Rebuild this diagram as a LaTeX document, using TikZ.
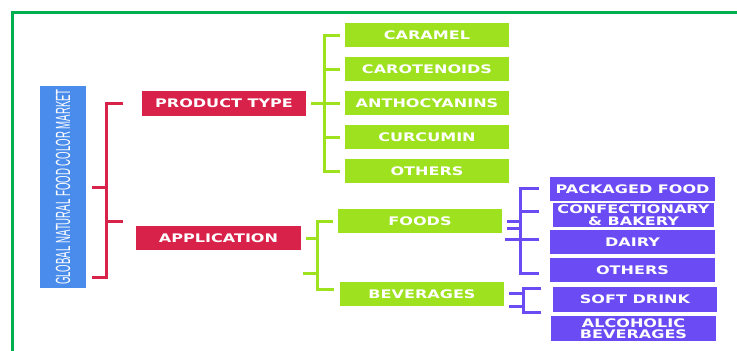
\documentclass[tikz,border=0pt]{standalone}
\usepackage{fontspec}
\newfontfamily\boxfont[FakeStretch=1.36]{DejaVu Sans}
\newfontfamily\marketfont[FakeStretch=0.47]{Liberation Sans}
\definecolor{framegreen}{HTML}{00B050}
\definecolor{marketblue}{HTML}{4A8CEB}
\definecolor{segred}{HTML}{D8224A}
\definecolor{limegreen}{HTML}{9DE11F}
\definecolor{leafviolet}{HTML}{6A4BF4}

\begin{document}
\begin{tikzpicture}[
            x=1pt, y=-1pt,
            market/.style={rectangle, fill=marketblue, text=white, minimum width=202pt, minimum height=46pt, inner sep=0pt, font=\marketfont\fontsize{20.5}{21}\selectfont},
            segment/.style={rectangle, fill=segred, text=white, minimum width=164pt, minimum height=25pt, inner sep=0pt, font=\boxfont\bfseries\fontsize{11.8}{12}\selectfont},
            kind/.style={rectangle, fill=limegreen, text=white, minimum width=164pt, minimum height=24pt, inner sep=0pt, font=\boxfont\bfseries\fontsize{11.8}{12}\selectfont},
            leaf/.style={rectangle, fill=leafviolet, text=white, minimum width=165pt, minimum height=24pt, inner sep=0pt, align=center, font=\boxfont\bfseries\fontsize{11.8}{11.5}\selectfont},
            redline/.style={draw=segred, line width=3pt},
            limeline/.style={draw=limegreen, line width=3pt},
            violetline/.style={draw=leafviolet, line width=3pt}
        ]
        \useasboundingbox (0,0) rectangle (737,351);

        % ==========================================
        % FRAME (top and left edge only)
        % ==========================================
        \draw[draw=framegreen, line width=3pt] (12,351) -- (12,12) -- (737,12);

        % ==========================================
        % MARKET AND SEGMENTS
        % ==========================================
        \node[market, rotate=90] (market) at (63,187) {GLOBAL NATURAL FOOD COLOR MARKET};

        \node[segment] (product) at (224,103.5) {PRODUCT TYPE};
        \node[segment, minimum width=165pt, minimum height=24pt] (application) at (218.5,238) {APPLICATION};

        % Red bracket (corners do not line up with the boxes)
        \coordinate (rtop) at (123,103);
        \coordinate (rbot) at (92,277);
        \draw[redline] (rtop) -- ++(-17,0) |- (rbot);
        \draw[redline] (rbot |- market) -- ++(14,0);
        \draw[redline] (rtop |- 0,221) -- ++(-17,0);

        % ==========================================
        % PRODUCT TYPE
        % ==========================================
        \node[kind] (caramel) at (427,35) {CARAMEL};
        \node[kind] (carotenoids) at (427,69) {CAROTENOIDS};
        \node[kind] (anthocyanins) at (427,103) {ANTHOCYANINS};
        \node[kind] (curcumin) at (427,137) {CURCUMIN};
        \node[kind] (ptothers) at (427,171) {OTHERS};

        \draw[limeline] ([xshift=-5]caramel.west) -- ++(-15,0) |- ([xshift=-5]ptothers.west);
        \foreach \n in {carotenoids, anthocyanins, curcumin}
            \draw[limeline] ([xshift=-5]\n.west) -- ++(-15,0);
        \draw[limeline] ([xshift=5]product.east) -- ++(14,0);

        % ==========================================
        % APPLICATION
        % ==========================================
        \node[kind] (foods) at (420,221) {FOODS};
        \node[kind] (beverages) at (422,294) {BEVERAGES};

        \coordinate (abot) at (334,289);
        \draw[limeline] ([xshift=-5]foods.west) -- ++(-15,0) |- (abot);
        \draw[limeline] ([xshift=5]application.east) -- ++(12,0);
        \draw[limeline] (303,273) -- (318,273);

        % Foods leaves
        \node[leaf] (packaged) at (632.5,189) {PACKAGED FOOD};
        \node[leaf, minimum width=161pt] (confect) at (633.5,215) {CONFECTIONARY\\\& BAKERY};
        \node[leaf] (dairy) at (632.5,242) {DAIRY};
        \node[leaf] (fdothers) at (632.5,270) {OTHERS};

        \coordinate (ftop) at (539,188);
        \coordinate (fbot) at (539,273);
        \draw[violetline] (ftop) -- ++(-19,0) |- (fbot);
        \draw[violetline] (ftop |- 0,211) -- ++(-19,0);
        \draw[violetline] (ftop |- 0,239) -- ++(-34,0);
        \draw[violetline] ([xshift=5]foods.east |- 0,221) -- ++(13,0);
        \draw[violetline] ([xshift=5]foods.east |- 0,228) -- ++(13,0);

        % Beverages leaves
        \node[leaf, minimum width=164pt, minimum height=25pt] (softdrink) at (635,299.5) {SOFT DRINK};
        \node[leaf, minimum height=25pt] (alcoholic) at (633.5,328.5) {ALCOHOLIC\\BEVERAGES};

        \coordinate (btop) at (541,288);
        \coordinate (bbot) at (541,312);
        \draw[violetline] (btop) -- ++(-18,0) |- (bbot);
        \draw[violetline] ([xshift=5]beverages.east |- 0,293) -- ++(14,0);
        \draw[violetline] ([xshift=5]beverages.east |- 0,306) -- ++(14,0);

        \end{tikzpicture}
\end{document}
